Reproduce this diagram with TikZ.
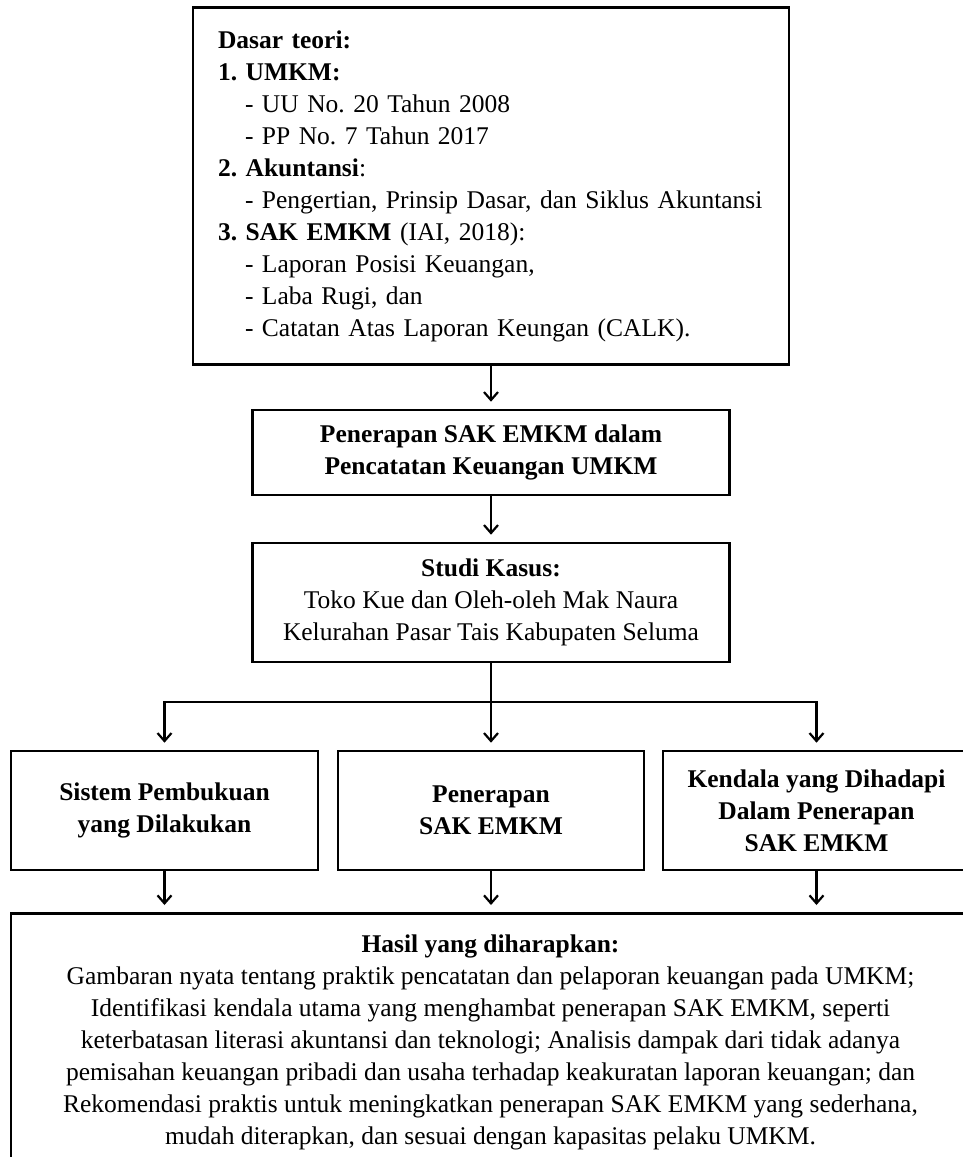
\documentclass[tikz,border=0pt]{standalone}
\usepackage{fontspec}
\setmainfont{Liberation Serif}
\usetikzlibrary{arrows.meta}
\frenchspacing

\begin{document}
\begin{tikzpicture}[x=1pt,y=-1pt,
    kotak/.style={draw, line width=2.6pt, inner sep=0pt, align=center,
        font=\fontsize{25.5}{32}\selectfont},
    panah/.style={line width=2.2pt, shorten >=7pt,
        -{Straight Barb[length=8pt,width=14pt,line width=2.2pt]}},
    garis/.style={line width=2.2pt}]
    \useasboundingbox (0,0) rectangle (962,1157);

    % 理论框
    \node[kotak, align=left, minimum width=596pt, minimum height=357pt,
        text width=546pt] (teori) at (491,186) {%
        \textbf{Dasar teori:}\\
        \textbf{1. UMKM:}\\
        \hspace*{27pt}- UU No. 20 Tahun 2008\\
        \hspace*{27pt}- PP No. 7 Tahun 2017\\
        \textbf{2. Akuntansi}:\\
        \hspace*{27pt}- Pengertian, Prinsip Dasar, dan Siklus Akuntansi\\
        \textbf{3. SAK EMKM} (IAI, 2018):\\
        \hspace*{27pt}- Laporan Posisi Keuangan,\\
        \hspace*{27pt}- Laba Rugi, dan\\
        \hspace*{27pt}- Catatan Atas Laporan Keungan (CALK).};

    % 中间两框
    \node[kotak, minimum width=477pt, minimum height=85pt] (penerapan) at (491,452.5)
        {\textbf{Penerapan SAK EMKM dalam}\\\textbf{Pencatatan Keuangan UMKM}};
    \node[kotak, minimum width=477pt, minimum height=119pt] (studi) at (491,602.5)
        {\textbf{Studi Kasus:}\\Toko Kue dan Oleh-oleh Mak Naura\\Kelurahan Pasar Tais Kabupaten Seluma};

    % 三个分支
    \node[kotak, minimum width=307pt, minimum height=119pt] (sistem) at (164.5,810.5)
        {\textbf{Sistem Pembukuan}\\\textbf{yang Dilakukan}};
    \node[kotak, minimum width=306pt, minimum height=119pt] (terapan) at (491,810.5)
        {\textbf{Penerapan}\\\textbf{SAK EMKM}};
    \node[kotak, minimum width=307pt, minimum height=119pt] (kendala) at (816.5,810.5)
        {\textbf{Kendala yang Dihadapi}\\\textbf{Dalam Penerapan}\\\textbf{SAK EMKM}};

    % 结果框
    \node[kotak, anchor=north, minimum width=959pt, inner ysep=21pt] (hasil) at (490.5,912)
        {\textbf{Hasil yang diharapkan:}\\
        Gambaran nyata tentang praktik pencatatan dan pelaporan keuangan pada UMKM;\\
        Identifikasi kendala utama yang menghambat penerapan SAK EMKM, seperti\\
        keterbatasan literasi akuntansi dan teknologi; Analisis dampak dari tidak adanya\\
        pemisahan keuangan pribadi dan usaha terhadap keakuratan laporan keuangan; dan\\
        Rekomendasi praktis untuk meningkatkan penerapan SAK EMKM yang sederhana,\\
        mudah diterapkan, dan sesuai dengan kapasitas pelaku UMKM.};

    % 箭头
    \draw[panah] (teori.south) -- (penerapan.north);
    \draw[panah] (penerapan.south) -- (studi.north);
    \coordinate (cabang) at (491,702);
    \draw[garis] (studi.south) -- (cabang);
    \draw[panah] (cabang) -| (sistem.north);
    \draw[panah] (cabang) -- (terapan.north);
    \draw[panah] (cabang) -| (kendala.north);
    \draw[panah] (sistem.south) -- (sistem.south |- hasil.north);
    \draw[panah] (terapan.south) -- (terapan.south |- hasil.north);
    \draw[panah] (kendala.south) -- (kendala.south |- hasil.north);
\end{tikzpicture}
\end{document}
